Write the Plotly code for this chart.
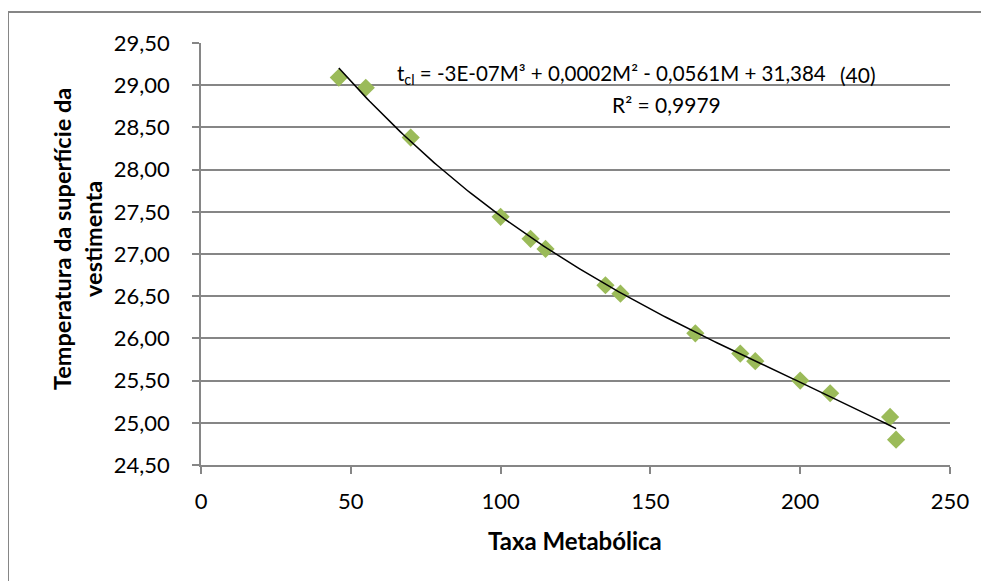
import numpy as np
import plotly.graph_objects as go

# Data
taxa_metabolica = [46, 55, 70, 100, 110, 115, 135, 140, 165, 180, 185, 200, 210, 230, 232]
temperatura = [29.09, 28.97, 28.38, 27.44, 27.18, 27.06, 26.63, 26.53, 26.06, 25.82, 25.73, 25.50, 25.35, 25.07, 24.80]

x_ticks = [0, 50, 100, 150, 200, 250]
y_ticks = [24.5, 25.0, 25.5, 26.0, 26.5, 27.0, 27.5, 28.0, 28.5, 29.0, 29.5]
y_tick_text = ["24,50", "25,00", "25,50", "26,00", "26,50", "27,00", "27,50", "28,00", "28,50", "29,00", "29,50"]

equation_text = "t<sub>cl</sub> = -3E-07M³ + 0,0002M² - 0,0561M + 31,384"
eq_number = "(40)"
r2_text = "R² = 0,9979"
x_title = "Taxa Metabólica"
y_title = "Temperatura da superfície da<br>vestimenta"

# Polynomial (order 3) trendline fitted to the data
coef = np.polyfit(taxa_metabolica, temperatura, 3)
xs = np.linspace(min(taxa_metabolica), max(taxa_metabolica), 200)
ys = np.polyval(coef, xs)

FONT = "Lato"
GRID = "#868686"

fig = go.Figure()
fig.add_trace(go.Scatter(
    x=taxa_metabolica, y=temperatura, mode="markers",
    marker=dict(symbol="diamond", size=14, color="#9BBB59", line=dict(width=0)),
    showlegend=False, hoverinfo="x+y"))
fig.add_trace(go.Scatter(
    x=xs, y=ys, mode="lines", line=dict(color="black", width=1.5),
    showlegend=False, hoverinfo="skip"))

# page body has an 8px margin; figure placed at (8, 8)
OFF = 8
W, H = 989 - OFF, 581 - OFF
L, R, T = 201 - OFF, 989 - 950, 43 - OFF
B = H - (465 - OFF)
pw, ph = W - L - R, H - T - B

def px(xp):
    return (xp - OFF - L) / pw

def py(yp):
    return (H - B - (yp - OFF)) / ph

fig.update_layout(
    width=W, height=H,
    margin=dict(l=L, r=R, t=T, b=B, autoexpand=False),
    paper_bgcolor="white", plot_bgcolor="white",
    font=dict(family=FONT, size=22, color="black"),
    xaxis=dict(range=[0, 250], tickvals=x_ticks, ticks="outside", ticklen=7,
               tickcolor=GRID, tickwidth=1.5, showgrid=False, zeroline=False,
               showline=True, linecolor=GRID, linewidth=1.5,
               ticklabelstandoff=9, fixedrange=True),
    yaxis=dict(range=[24.5, 29.5], tickvals=y_ticks, ticktext=y_tick_text,
               ticks="outside", ticklen=7, tickcolor=GRID, tickwidth=1.5,
               showgrid=True, gridcolor=GRID, gridwidth=1.5, zeroline=False,
               showline=True, linecolor=GRID, linewidth=1.5,
               ticklabelstandoff=18, fixedrange=True),
    shapes=[dict(type="rect", xref="paper", yref="paper",
                 x0=px(8), x1=px(1200), y0=py(900), y1=py(12),
                 line=dict(color=GRID, width=2), fillcolor="rgba(0,0,0,0)", layer="below")],
    annotations=[
        dict(text=equation_text, xref="paper", yref="paper", x=px(395), y=py(74),
             xanchor="left", yanchor="middle", showarrow=False, font=dict(size=20.5)),
        dict(text=eq_number, xref="paper", yref="paper", x=px(878), y=py(74),
             xanchor="right", yanchor="middle", showarrow=False, font=dict(size=21)),
        dict(text=r2_text, xref="paper", yref="paper", x=px(666), y=py(105),
             xanchor="center", yanchor="middle", showarrow=False, font=dict(size=21)),
        dict(text="<b>" + x_title + "</b>", xref="paper", yref="paper", x=px(575), y=py(540),
             xanchor="center", yanchor="middle", showarrow=False, font=dict(size=24)),
        dict(text="<b>" + y_title + "</b>", xref="paper", yref="paper", x=px(77), y=py(239),
             xanchor="center", yanchor="middle", showarrow=False, textangle=-90,
             font=dict(size=23.5)),
    ],
)

fig.write_html("out.html")
